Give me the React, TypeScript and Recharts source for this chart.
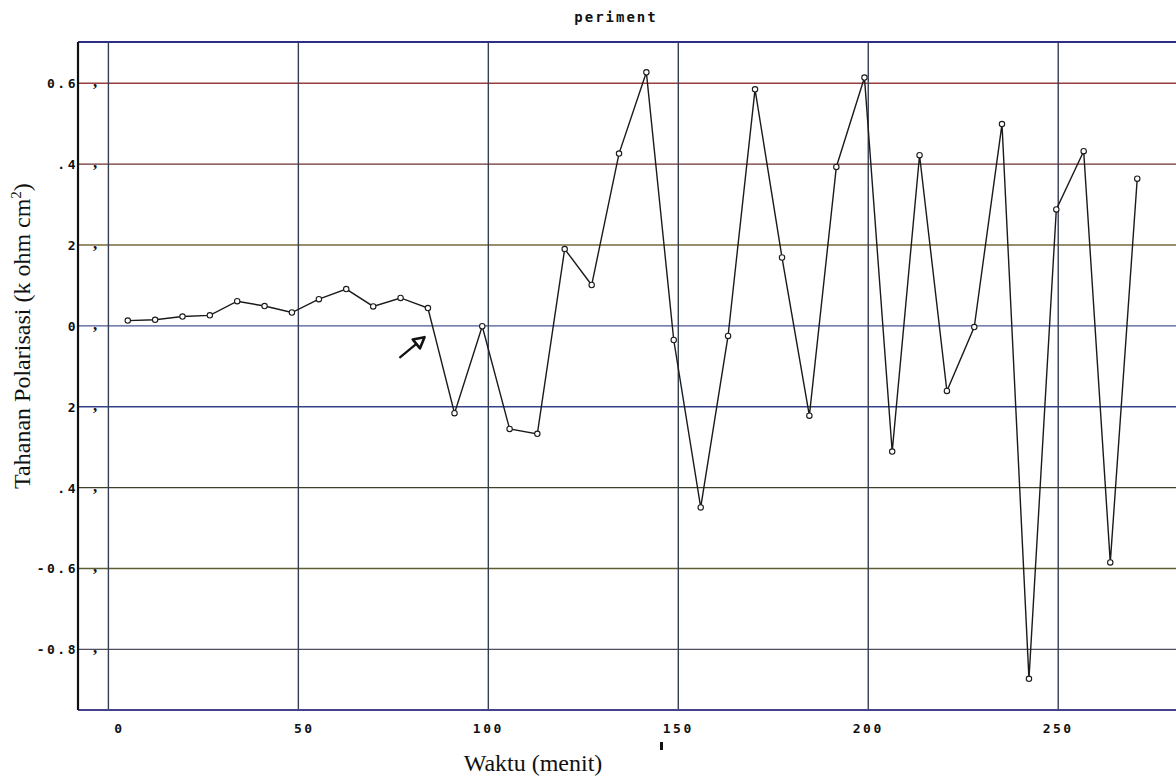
import { LineChart, Line, XAxis, YAxis, ReferenceLine } from "recharts";

// waktu (menit)
const times = [
  5.1, 12.3, 19.5, 26.7, 33.9, 41.1, 48.3, 55.4, 62.6, 69.7, 76.9, 84.1, 91.1,
  98.4, 105.6, 112.9, 120.1, 127.2, 134.4, 141.6, 148.8, 155.9, 163.1, 170.2,
  177.3, 184.5, 191.6, 199.0, 206.3, 213.5, 220.7, 227.9, 235.2, 242.3, 249.5,
  256.7, 263.7, 270.8,
];

// tahanan polarisasi (k ohm cm2)
const resistance = [
  0.013, 0.015, 0.023, 0.026, 0.061, 0.049, 0.033, 0.066, 0.091, 0.048, 0.069,
  0.044, -0.216, -0.001, -0.255, -0.267, 0.19, 0.101, 0.426, 0.627, -0.035,
  -0.449, -0.025, 0.585, 0.169, -0.222, 0.393, 0.614, -0.311, 0.422, -0.161,
  -0.003, 0.499, -0.873, 0.288, 0.432, -0.585, 0.364,
];

const xTicks = [0, 50, 100, 150, 200, 250];
const yTicks = [0.6, 0.4, 0.2, 0, -0.2, -0.4, -0.6, -0.8];
const yTickLabels = ["0.6", ".4", "2", "0", "2", ".4", "-0.6", "-0.8"];
const hLineColors = [
  "#9a3c3c",
  "#6e3030",
  "#76683e",
  "#4a5694",
  "#34428a",
  "#3e3e2a",
  "#5e5e36",
  "#4e4e5e",
];

const xDomain: [number, number] = [-8, 281];
const yDomain: [number, number] = [-0.95, 0.702];

// hand-drawn arrow on the scan (tail -> head), data coords
const arrowTail = { x: 76.6, y: -0.079 };
const arrowHead = { x: 83.2, y: -0.028 };

const data = times.map((t, i) => ({ t, r: resistance[i] }));

const pixelFont = "'DejaVu Sans Mono', monospace";

const XTick = (props: any) => {
  const { x, y, payload } = props;
  const dx = payload.value === 0 ? 11 : payload.value === 50 ? 6 : 0;
  return (
    <text
      x={x + dx}
      y={y + 15}
      textAnchor="middle"
      fontFamily={pixelFont}
      fontWeight="bold"
      fontSize={13}
      letterSpacing={2.5}
      fill="#111"
    >
      {payload.value}
    </text>
  );
};

const YTick = (props: any) => {
  const { y, payload } = props;
  const idx = yTicks.indexOf(payload.value);
  return (
    <g>
      <text
        x={78}
        y={y + 5}
        textAnchor="end"
        fontFamily={pixelFont}
        fontWeight="bold"
        fontSize={13}
        letterSpacing={2.5}
        fill="#111"
      >
        {idx >= 0 ? yTickLabels[idx] : ""}
      </text>
      <text
        x={95}
        y={y + 4}
        textAnchor="middle"
        fontFamily="'Liberation Serif', serif"
        fontWeight="bold"
        fontSize={17}
        fill="#111"
      >
        ,
      </text>
    </g>
  );
};

const ArrowShape = (props: any) => {
  const { x1, y1, x2, y2 } = props;
  const ang = Math.atan2(y2 - y1, x2 - x1);
  const len = 12;
  const spread = 0.5;
  const ax = x2 - len * Math.cos(ang - spread);
  const ay = y2 - len * Math.sin(ang - spread);
  const bx = x2 - len * Math.cos(ang + spread);
  const by = y2 - len * Math.sin(ang + spread);
  return (
    <g>
      <line x1={x1} y1={y1} x2={x2} y2={y2} stroke="#111" strokeWidth={2.2} />
      <polygon
        points={`${x2},${y2} ${ax},${ay} ${bx},${by}`}
        fill="#fff"
        stroke="#111"
        strokeWidth={2.6}
        strokeLinejoin="round"
      />
    </g>
  );
};

export default function App() {
  return (
    <div style={page}>
      <div style={title}>periment</div>

      <LineChart
        width={1176}
        height={778}
        data={data}
        margin={{ top: 42, right: 0, bottom: 0, left: 0 }}
      >
        {yTicks.map((v, i) => (
          <ReferenceLine
            key={"h" + v}
            y={v}
            stroke={hLineColors[i]}
            strokeWidth={1.4}
          />
        ))}
        {xTicks.map((v) => (
          <ReferenceLine key={"v" + v} x={v} stroke="#363e52" strokeWidth={1.4} />
        ))}
        <ReferenceLine y={yDomain[1]} stroke="#2e2e84" strokeWidth={2.2} />

        <XAxis
          dataKey="t"
          type="number"
          domain={xDomain}
          ticks={xTicks}
          allowDataOverflow
          height={68}
          tickLine={false}
          axisLine={{ stroke: "#46428c", strokeWidth: 2.2 }}
          tick={<XTick />}
          interval={0}
        />
        <YAxis
          type="number"
          domain={yDomain}
          ticks={yTicks}
          allowDataOverflow
          width={78}
          tickLine={false}
          axisLine={{ stroke: "#111", strokeWidth: 2.2 }}
          tick={<YTick />}
          interval={0}
        />

        <ReferenceLine
          segment={[arrowTail, arrowHead]}
          shape={ArrowShape}
          ifOverflow="visible"
        />

        <Line
          dataKey="r"
          type="linear"
          stroke="#1a1a1a"
          strokeWidth={1.4}
          dot={{ r: 2.7, stroke: "#1a1a1a", strokeWidth: 1.1, fill: "#fff" }}
          isAnimationActive={false}
        />
      </LineChart>

      <div style={yLabel}>
        Tahanan Polarisasi (k ohm cm<sup style={{ fontSize: 15 }}>2</sup>)
      </div>
      <div style={xLabel}>Waktu (menit)</div>
      <div style={smallMark} />
    </div>
  );
}

/* styles */

const page: React.CSSProperties = {
  position: "absolute",
  left: 0,
  top: 0,
  width: 1176,
  height: 778,
  overflow: "hidden",
  background: "#fff",
};

const title: React.CSSProperties = {
  position: "absolute",
  left: 616,
  top: 9,
  transform: "translateX(-50%)",
  fontFamily: pixelFont,
  fontWeight: "bold",
  fontSize: 14,
  letterSpacing: 2,
  color: "#111",
};

const yLabel: React.CSSProperties = {
  position: "absolute",
  left: 22,
  top: 336,
  transform: "translate(-50%, -50%) rotate(-90deg)",
  whiteSpace: "nowrap",
  fontFamily: "'Liberation Serif', serif",
  fontSize: 24,
  color: "#111",
};

const xLabel: React.CSSProperties = {
  position: "absolute",
  left: 533,
  top: 750,
  transform: "translateX(-50%)",
  whiteSpace: "nowrap",
  fontFamily: "'Liberation Serif', serif",
  fontSize: 24,
  color: "#111",
};

const smallMark: React.CSSProperties = {
  position: "absolute",
  left: 660,
  top: 742,
  width: 3,
  height: 8,
  background: "#111",
};
